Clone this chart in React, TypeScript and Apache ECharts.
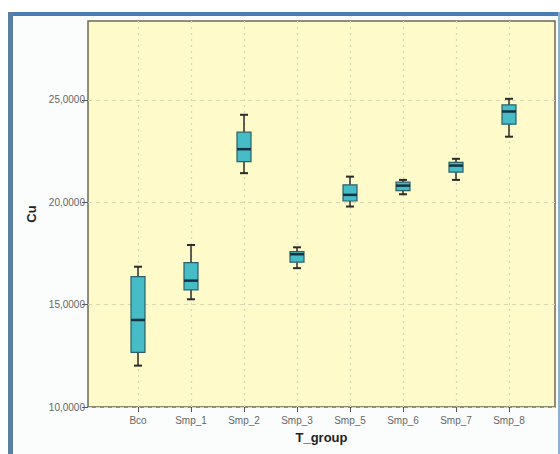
import React, { useEffect, useRef } from "react";
import * as echarts from "echarts";

// Cu by treatment group: [low whisker, Q1, median, Q3, high whisker]
const groups = ["Bco", "Smp_1", "Smp_2", "Smp_3", "Smp_5", "Smp_6", "Smp_7", "Smp_8"];
const lowWhisker = [12.02, 15.26, 21.42, 16.78, 19.79, 20.39, 21.09, 23.2];
const q1 = [12.67, 15.72, 21.98, 17.07, 20.06, 20.57, 21.47, 23.81];
const median = [14.25, 16.17, 22.59, 17.46, 20.36, 20.81, 21.79, 24.43];
const q3 = [16.37, 17.05, 23.42, 17.59, 20.85, 20.98, 21.95, 24.75];
const highWhisker = [16.85, 17.91, 24.27, 17.8, 21.25, 21.09, 22.12, 25.05];
const yTicks = [10, 15, 20, 25];

const Y_MIN = 10;
const Y_MAX = 28.85;

const fmt = (v: number) => v.toFixed(4).replace(".", ",");

export default function App() {
  const ref = useRef<HTMLDivElement>(null);

  useEffect(() => {
    document.body.style.margin = "0";
    if (!ref.current) return;
    const chart = echarts.init(ref.current, null, { renderer: "svg" });

    const boxData = groups.map((_, i) => [i, lowWhisker[i], q1[i], median[i], q3[i], highWhisker[i]]);

    const labelStyle = { color: "#666666", fontSize: 10, fontFamily: "Liberation Sans, Arial, sans-serif" };
    const hDashed = { color: "#dcd7b0", type: [4, 4] as any, width: 1.2 };
    const vDotted = { color: "#dcd7b0", type: [2, 4] as any, width: 1.2 };

    chart.setOption({
      animation: false,
      backgroundColor: "#ffffff",
      graphic: [
        { type: "rect", shape: { x: 8, y: 12, width: 552, height: 442 }, style: { fill: "#fbfdfd" }, z: -10 },
        { type: "rect", shape: { x: 8, y: 12, width: 552, height: 4 }, style: { fill: "#4a7db6" }, z: -5 },
        { type: "rect", shape: { x: 8, y: 12, width: 5, height: 442 }, style: { fill: "#5a7fa2" }, z: -5 },
        { type: "rect", shape: { x: 558, y: 12, width: 2, height: 442 }, style: { fill: "#8fb0cf" }, z: -5 },
      ],
      grid: [
        {
          left: 88,
          top: 21,
          right: 5,
          bottom: 47,
          show: true,
          backgroundColor: "#fefac9",
          borderColor: "#6a6a55",
          borderWidth: 1.5,
        },
        { left: 138, top: 21, right: 51, bottom: 47 },
      ],
      xAxis: [
        {
          type: "value",
          gridIndex: 0,
          show: true,
          name: "T_group",
          nameLocation: "middle",
          nameGap: 24,
          nameTextStyle: { fontSize: 13, fontWeight: "bold", color: "#222", fontFamily: "Liberation Sans, Arial, sans-serif" },
          axisLine: { show: false },
          axisTick: { show: false },
          axisLabel: { show: false },
          splitLine: { show: false },
        },
        {
          type: "category",
          gridIndex: 1,
          data: groups,
          boundaryGap: false,
          axisLine: { show: false },
          axisTick: { show: true, length: 5, lineStyle: { color: "#555" } },
          axisLabel: { ...labelStyle, margin: 8 },
          splitLine: { show: true, lineStyle: vDotted },
        },
      ],
      yAxis: [
        {
          type: "value",
          gridIndex: 0,
          min: Y_MIN,
          max: Y_MAX,
          interval: 5,
          name: "Cu",
          nameLocation: "middle",
          nameGap: 50,
          nameTextStyle: { fontSize: 13, fontWeight: "bold", color: "#222", fontFamily: "Liberation Sans, Arial, sans-serif" },
          axisLine: { show: false },
          axisTick: { show: true, length: 6, lineStyle: { color: "#555" }, customValues: yTicks },
          axisLabel: { ...labelStyle, margin: 3, formatter: fmt, customValues: yTicks },
          splitLine: { show: true, lineStyle: hDashed },
        },
        {
          type: "value",
          gridIndex: 1,
          min: Y_MIN,
          max: Y_MAX,
          interval: 5,
          show: false,
        },
      ],
      series: [
        {
          type: "custom",
          xAxisIndex: 1,
          yAxisIndex: 1,
          data: boxData,
          clip: false,
          renderItem: (params: any, api: any) => {
            const x = api.value(0);
            const pLow = api.coord([x, api.value(1)]);
            const pQ1 = api.coord([x, api.value(2)]);
            const pMed = api.coord([x, api.value(3)]);
            const pQ3 = api.coord([x, api.value(4)]);
            const pHigh = api.coord([x, api.value(5)]);
            const cx = pMed[0];
            const boxW = 14;
            const capW = 8;
            const whisker = { stroke: "#2b2b2b", lineWidth: 1.5 };
            return {
              type: "group",
              children: [
                { type: "line", shape: { x1: cx, y1: pHigh[1], x2: cx, y2: pQ3[1] }, style: whisker },
                { type: "line", shape: { x1: cx, y1: pQ1[1], x2: cx, y2: pLow[1] }, style: whisker },
                { type: "line", shape: { x1: cx - capW / 2, y1: pHigh[1], x2: cx + capW / 2, y2: pHigh[1] }, style: { ...whisker, lineWidth: 2 } },
                { type: "line", shape: { x1: cx - capW / 2, y1: pLow[1], x2: cx + capW / 2, y2: pLow[1] }, style: { ...whisker, lineWidth: 2 } },
                {
                  type: "rect",
                  shape: { x: cx - boxW / 2, y: pQ3[1], width: boxW, height: pQ1[1] - pQ3[1] },
                  style: { fill: "#45bcc6", stroke: "#2c6068", lineWidth: 1.2 },
                },
                {
                  type: "line",
                  shape: { x1: cx - boxW / 2, y1: pMed[1], x2: cx + boxW / 2, y2: pMed[1] },
                  style: { stroke: "#16323e", lineWidth: 2.5 },
                },
              ],
            };
          },
        },
      ],
    });

    return () => chart.dispose();
  }, []);

  return (
    <div
      ref={ref}
      style={{ position: "absolute", left: 0, top: 0, width: 560, height: 454 }}
    />
  );
}
